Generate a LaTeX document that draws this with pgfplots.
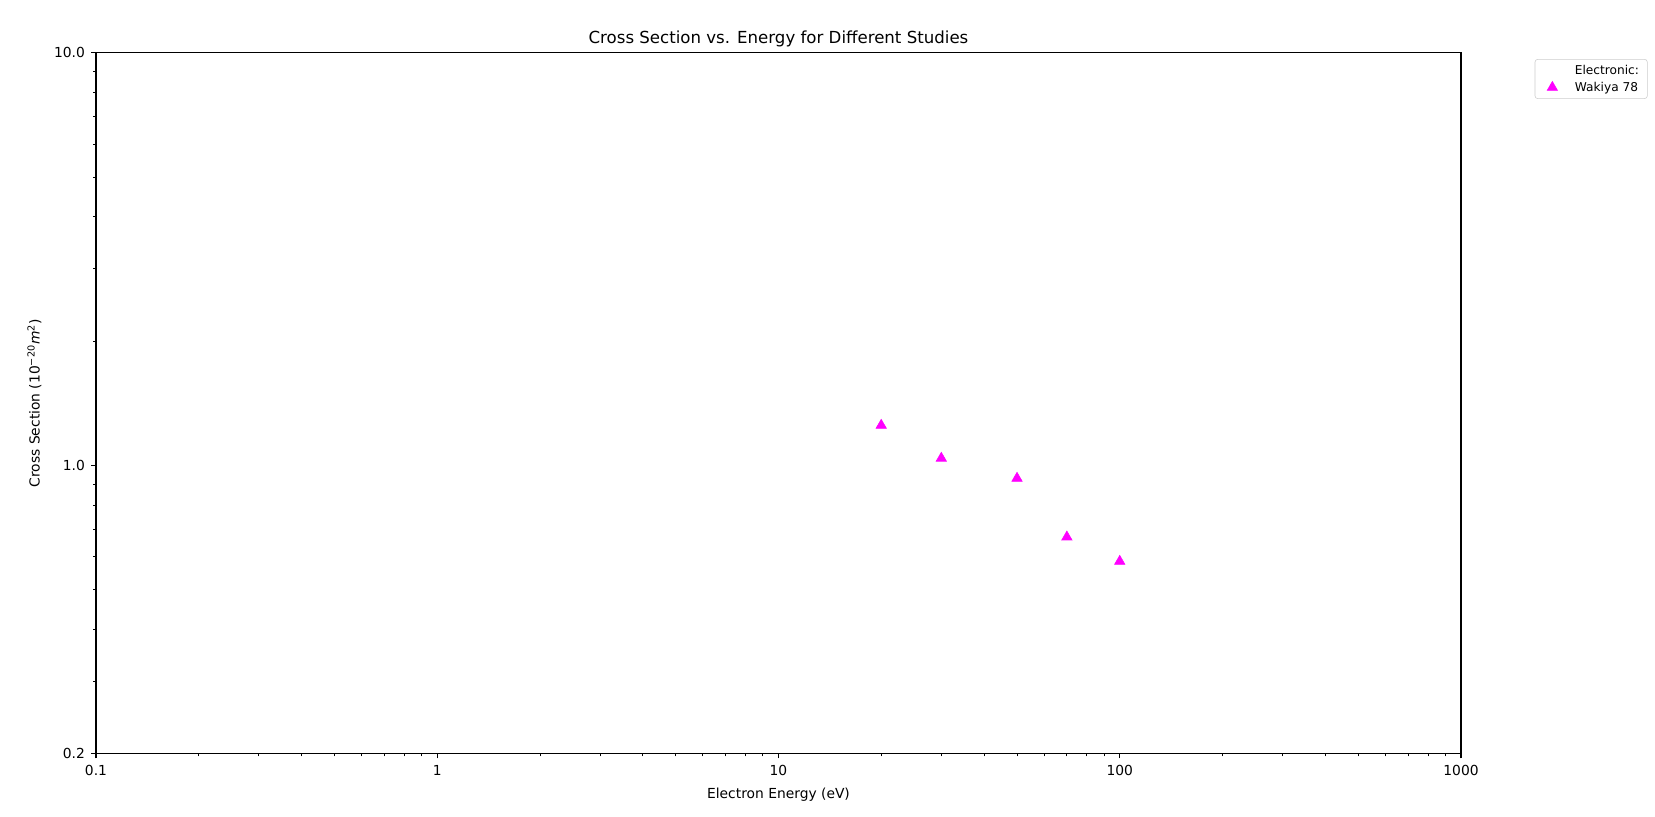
\documentclass[border=0pt]{standalone}
\usepackage{pgfplots}
\pgfplotsset{compat=1.18}
\usepackage{fontspec}
\setmainfont{DejaVu Sans}
\definecolor{mpmag}{RGB}{255,0,255}
\begin{document}
\begin{tikzpicture}
\useasboundingbox (-69.12bp,-44.93bp) rectangle (1122.48bp,542.59bp);
\begin{axis}[
  at={(0,0)}, anchor=south west,
  scale only axis,
  width=982.8bp, height=504.6bp,
  xmode=log, ymode=log,
  xmin=0.1, xmax=1000, ymin=0.2, ymax=10,
  xtick={0.1,1,10,100,1000},
  xticklabels={0.1,1,10,100,1000},
  ytick={0.2,1,10},
  yticklabels={0.2,1.0,10.0},
  minor xtick={0.2,0.3,0.4,0.5,0.6,0.7,0.8,0.9,2,3,4,5,6,7,8,9,20,30,40,50,60,70,80,90,200,300,400,500,600,700,800,900},
  minor ytick={0.3,0.4,0.5,0.6,0.7,0.8,0.9,2,3,4,5,6,7,8,9},
  tick align=outside,
  xtick pos=bottom, ytick pos=left,
  major tick length=3.5bp, minor tick length=2bp,
  every tick/.style={black, line width=0.8bp},
  every minor tick/.style={black, line width=0.6bp},
  axis line style={line width=0.8bp},
  tick label style={font=\fontsize{10}{12}\selectfont},
  xticklabel style={yshift=-1.5bp},
  yticklabel style={xshift=-1bp},
  title={Cross Section vs. Energy for Different Studies},
  title style={font=\fontsize{12}{14}\selectfont, yshift=-5.6bp},
  xlabel={Electron Energy (eV)},
  ylabel={Cross Section (10\textsuperscript{−20}\textit{m}\textsuperscript{2})},
  label style={font=\fontsize{10}{12}\selectfont},
  xlabel style={yshift=-1.8bp},
  ylabel style={yshift=2.3bp},
  legend style={at={(axis description cs:1.054,0.991)}, anchor=north west,
    draw=black!20, rounded corners=2bp, fill=white,
    font=\fontsize{8.8}{10.5}\selectfont, cells={anchor=west},
    inner xsep=4bp, inner ysep=2bp, row sep=0bp, column sep=10.5bp},
  legend cell align=left,
]
\addlegendimage{empty legend}
\addlegendentry{Electronic:}
\addplot[only marks, mark=triangle*, mark size=4.3bp, color=mpmag, mark options={fill=mpmag, draw=mpmag}]
  coordinates {(20,1.25) (30,1.04) (50,0.93) (70,0.67) (100,0.585)};
\addlegendentry{Wakiya 78}
\end{axis}
\end{tikzpicture}
\end{document}
